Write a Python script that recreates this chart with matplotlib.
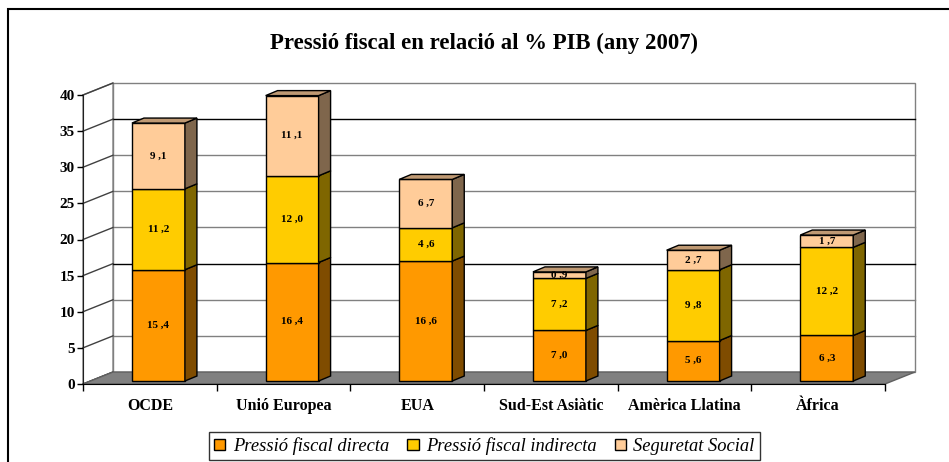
import matplotlib
matplotlib.use('Agg')
import matplotlib.pyplot as plt
from matplotlib.patches import Polygon, Rectangle, Patch

plt.rcParams['font.family'] = ['Liberation Serif', 'DejaVu Serif']

categories = ['OCDE', 'Unió Europea', 'EUA', 'Sud-Est Asiàtic', 'Amèrica Llatina', 'Àfrica']
series_names = ['Pressió fiscal directa', 'Pressió fiscal indirecta', 'Seguretat Social']
directa = [15.4, 16.4, 16.6, 7.0, 5.6, 6.3]
indirecta = [11.2, 12.0, 4.6, 7.2, 9.8, 12.2]
social = [9.1, 11.1, 6.7, 0.9, 2.7, 1.7]
yticks = [0, 5, 10, 15, 20, 25, 30, 35, 40]

front_cols = ['#FF9900', '#FFCC00', '#FFCC99']
side_cols = ['#7F4C00', '#7F6600', '#7F664C']
top_cols = ['#BF7300', '#BF9900', '#BF9973']

W, H = 949, 462
fig = plt.figure(figsize=(W / 100, H / 100), dpi=100)
ax = fig.add_axes([83 / W, (H - 384) / H, 802 / W, 289 / H])
ax.set_xlim(0, 6)
ax.set_ylim(0, 40)
ax.patch.set_visible(False)

# 3d depth of the walls and of the bars (data units)
DX, DY = 30 / 133.7, 12 / 7.225
ox, oy = 8.6 / 133.7, 3 / 7.225
bdx, bdy = 12 / 133.7, 5 / 7.225
bw = 53 / 133.7

# back wall, side wall, floor
ax.add_patch(Polygon([(DX, DY), (6 + DX, DY), (6 + DX, 40 + DY), (DX, 40 + DY)],
                     closed=True, fc='white', ec='#808080', lw=1, clip_on=False, zorder=0))
ax.add_patch(Polygon([(0, 0), (DX, DY), (DX, 40 + DY), (0, 40)],
                     closed=True, fc='white', ec='#808080', lw=1, clip_on=False, zorder=0))
for v in yticks[1:-1]:
    c = 'black' if v in (15, 35) else '#808080'
    ax.plot([DX, 6 + DX], [v + DY, v + DY], color=c, lw=1, clip_on=False, zorder=0.5)
for v in yticks:
    ax.plot([0, DX], [v, v + DY], color='#404040', lw=1, clip_on=False, zorder=0.5)
ax.add_patch(Polygon([(0, 0), (6, 0), (6 + DX, DY), (DX, DY)],
                     closed=True, fc='#808080', ec='#606060', lw=1, clip_on=False, zorder=1))

# bars
series = [directa, indirecta, social]
for i in range(len(categories)):
    xl = i + 0.5 + ox - bw / 2
    xr = xl + bw
    base = oy
    for k, vals in enumerate(series):
        v = vals[i]
        b = ax.bar(i + 0.5 + ox, v, bottom=base, width=bw, color=front_cols[k],
                   edgecolor='black', lw=1, zorder=3)
        b[0].set_clip_on(False)
        t = base + v
        ax.add_patch(Polygon([(xr, base), (xr + bdx, base + bdy), (xr + bdx, t + bdy), (xr, t)],
                             closed=True, fc=side_cols[k], ec='black', lw=1, clip_on=False, zorder=3))
        if k == len(series) - 1:
            ax.add_patch(Polygon([(xl, t), (xr, t), (xr + bdx, t + bdy), (xl + bdx, t + bdy)],
                                 closed=True, fc=top_cols[k], ec='black', lw=1, clip_on=False, zorder=3))
        ax.text(i + 0.5 + ox, base + v / 2, f'{v:.1f}'.replace('.', ' ,'), ha='center', va='center',
                fontsize=8, fontweight='bold', zorder=4)
        base = t

# axes
for s in ['top', 'right']:
    ax.spines[s].set_visible(False)
ax.spines['left'].set_color('#202020')
ax.spines['bottom'].set_color('black')
ax.spines['left'].set_zorder(2)
ax.spines['bottom'].set_zorder(2)
ax.set_yticks(yticks)
ax.set_yticklabels([str(v) for v in yticks], fontsize=11, fontweight='bold')
ax.tick_params(axis='y', direction='out', length=4, width=1, pad=2)
ax.set_xticks(range(7))
ax.set_xticklabels([])
ax.tick_params(axis='x', which='major', direction='out', length=5, width=1)
ax.set_xticks([i + 0.5 for i in range(6)], minor=True)
ax.set_xticklabels(categories, minor=True, fontsize=11.5, fontweight='bold')
ax.tick_params(axis='x', which='minor', length=0, pad=10)

fig.text(484 / W, (H - 43) / H, 'Pressió fiscal en relació al % PIB (any 2007)',
         ha='center', va='center', fontsize=16.4, fontweight='bold')

handles = [Patch(fc=front_cols[k], ec='black', lw=1) for k in range(3)]
leg = fig.legend(handles, series_names, loc='center', bbox_to_anchor=(484.5 / W, (H - 446) / H),
                 ncol=3, frameon=True, fancybox=False, edgecolor='black',
                 prop={'style': 'italic', 'size': 13.3, 'family': 'Liberation Serif'},
                 handlelength=0.6, handleheight=0.6, handletextpad=0.4, columnspacing=1.0,
                 borderpad=0.3, borderaxespad=0)
leg.get_frame().set_linewidth(1)

fig.add_artist(Rectangle((8 / W, -0.1), 1.1, (H - 9) / H + 0.1, transform=fig.transFigure,
                         fill=False, ec='black', lw=1.5))

fig.savefig('out.png', dpi=100)
